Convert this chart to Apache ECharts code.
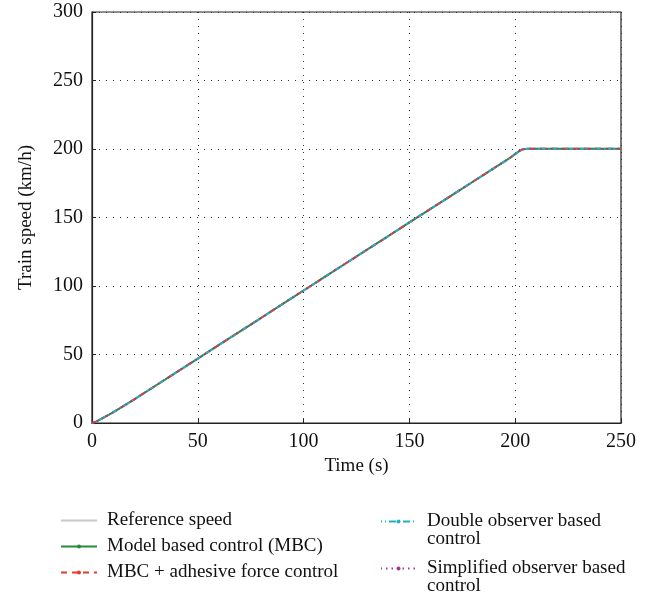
<!DOCTYPE html>
<html>
<head>
<meta charset="utf-8">
<script src="https://cdn.jsdelivr.net/npm/echarts@6/dist/echarts.min.js"></script>
<style>
  html, body { margin: 0; padding: 0; background: #fff; }
  #chart { width: 658px; height: 598px; }
</style>
</head>
<body>
<div id="chart"></div>
<script>
// Time samples (s)
const timeS = [0, 2, 5, 10, 15, 20, 30, 40, 50, 60, 70, 80, 90, 100, 110, 120, 130, 140,
  150, 160, 170, 180, 190, 195, 198, 200, 202, 203, 204, 206, 210, 220, 230, 240, 250];

// Train speed (km/h) for each controller
const referenceSpeed = [0, 1.0, 3.5, 7.8, 12.5, 17.3, 27.2, 37.1, 47.0, 57.0, 66.9, 76.8, 86.8, 96.7,
  106.6, 116.6, 126.5, 136.4, 146.4, 156.3, 166.2, 176.1, 186.1, 191.0, 194.0, 196.3, 198.5, 199.4,
  199.9, 200.2, 200.2, 200.1, 200.1, 200.1, 200.1];
const mbcSpeed = [0, 1.0, 3.5, 7.8, 12.5, 17.3, 27.2, 37.1, 47.0, 57.0, 66.9, 76.8, 86.8, 96.7,
  106.6, 116.6, 126.5, 136.4, 146.4, 156.3, 166.2, 176.1, 186.1, 191.0, 194.0, 196.3, 198.5, 199.4,
  199.9, 200.2, 200.2, 200.1, 200.1, 200.1, 200.1];
const adhesiveSpeed = [0, 1.0, 3.5, 7.8, 12.5, 17.3, 27.2, 37.1, 47.0, 57.0, 66.9, 76.8, 86.8, 96.7,
  106.6, 116.6, 126.5, 136.4, 146.4, 156.3, 166.2, 176.1, 186.1, 191.0, 194.0, 196.4, 198.6, 199.5,
  199.9, 200.2, 200.2, 200.1, 200.1, 200.1, 200.1];
const doubleObsSpeed = [0, 1.0, 3.5, 7.8, 12.5, 17.3, 27.2, 37.1, 47.0, 57.0, 66.9, 76.8, 86.8, 96.7,
  106.6, 116.6, 126.5, 136.4, 146.4, 156.3, 166.2, 176.1, 186.1, 191.0, 194.0, 196.3, 198.5, 199.4,
  199.9, 200.2, 200.2, 200.1, 200.1, 200.1, 200.1];
const simplifiedObsSpeed = [0, 1.0, 3.5, 7.8, 12.5, 17.3, 27.2, 37.1, 47.0, 57.0, 66.9, 76.8, 86.8, 96.7,
  106.6, 116.6, 126.5, 136.4, 146.4, 156.3, 166.2, 176.1, 186.1, 191.0, 194.0, 196.3, 198.5, 199.4,
  199.9, 200.2, 200.2, 200.1, 200.1, 200.1, 200.1];

const seriesNames = [
  'Reference speed',
  'Model based control (MBC)',
  'MBC + adhesive force control',
  'Double observer based control',
  'Simplified observer based control'
];

const FONT = 'Liberation Serif';
const TEXT = '#111';
const pair = (ys) => timeS.map((t, i) => [t, ys[i]]);

// Long legend entries wrap "control" onto a second line; a leading empty
// line keeps the icon level with the first line of text.
const wrapLegend = (name) => '\n' + name.replace(/ control$/, '\ncontrol');

const chart = echarts.init(document.getElementById('chart'), null, { renderer: 'canvas' });

const gridLine = { show: true, lineStyle: { type: [1, 6], color: '#333', width: 1 } };
const legendText = { fontFamily: FONT, fontSize: 19, color: TEXT, lineHeight: 18 };

chart.setOption({
  animation: false,
  backgroundColor: '#fff',
  grid: { left: 92, right: 37, top: 12, bottom: 175, show: true, borderColor: '#222', borderWidth: 1.2 },
  xAxis: {
    type: 'value', min: 0, max: 250, interval: 50,
    name: 'Time (s)', nameLocation: 'middle', nameGap: 33,
    nameTextStyle: { fontFamily: FONT, fontSize: 19, color: TEXT },
    axisLine: { show: true, lineStyle: { color: '#222', width: 1.2 } },
    axisTick: { show: true, inside: true, length: 4, lineStyle: { color: '#222' } },
    axisLabel: { fontFamily: FONT, fontSize: 20, color: TEXT, margin: 9 },
    splitLine: gridLine
  },
  yAxis: {
    type: 'value', min: 0, max: 300, interval: 50,
    name: 'Train speed (km/h)', nameLocation: 'middle', nameGap: 56, nameRotate: 90,
    nameTextStyle: { fontFamily: FONT, fontSize: 19, color: TEXT },
    axisLine: { show: true, lineStyle: { color: '#222', width: 1.2 } },
    axisTick: { show: true, inside: true, length: 4, lineStyle: { color: '#222' } },
    axisLabel: { fontFamily: FONT, fontSize: 20, color: TEXT, margin: 9 },
    splitLine: gridLine
  },
  legend: [
    {
      orient: 'vertical', left: 55, top: 506, itemWidth: 36, itemHeight: 5, itemGap: 7,
      textStyle: Object.assign({ padding: [0, 0, 0, 5] }, legendText),
      data: [
        { name: seriesNames[0], itemStyle: { opacity: 0 } },
        seriesNames[1],
        seriesNames[2]
      ]
    },
    {
      orient: 'vertical', left: 375, top: 489, itemWidth: 35, itemHeight: 5,
      textStyle: Object.assign({ padding: [0, 0, 0, 6] }, legendText),
      formatter: wrapLegend,
      data: [seriesNames[3]]
    },
    {
      orient: 'vertical', left: 375, top: 536, itemWidth: 35, itemHeight: 5,
      textStyle: Object.assign({ padding: [0, 0, 0, 6] }, legendText),
      formatter: wrapLegend,
      data: [seriesNames[4]]
    }
  ],
  series: [
    {
      name: seriesNames[0], type: 'line', data: pair(referenceSpeed),
      symbol: 'none', lineStyle: { color: '#c8c8c8', width: 1.2 }, itemStyle: { color: '#c8c8c8' }
    },
    {
      name: seriesNames[1], type: 'line', data: pair(mbcSpeed),
      symbol: 'circle', symbolSize: 4, showSymbol: false,
      lineStyle: { color: '#2a8a3c', width: 2 }, itemStyle: { color: '#2a8a3c' }
    },
    {
      name: seriesNames[2], type: 'line', data: pair(adhesiveSpeed),
      symbol: 'circle', symbolSize: 4, showSymbol: false,
      lineStyle: { color: '#e23a2e', width: 2, type: [6, 5] }, itemStyle: { color: '#e23a2e' }
    },
    {
      name: seriesNames[3], type: 'line', data: pair(doubleObsSpeed),
      symbol: 'circle', symbolSize: 4, showSymbol: false,
      lineStyle: { color: '#23b3bb', width: 2, type: [7, 3, 1, 3], dashOffset: 6 }, itemStyle: { color: '#23b3bb' }
    },
    {
      name: seriesNames[4], type: 'line', data: pair(simplifiedObsSpeed),
      symbol: 'circle', symbolSize: 4, showSymbol: false,
      lineStyle: { color: '#a3359c', width: 1.5, type: [1.5, 4] }, itemStyle: { color: '#a3359c' }
    }
  ]
});
</script>
</body>
</html>
